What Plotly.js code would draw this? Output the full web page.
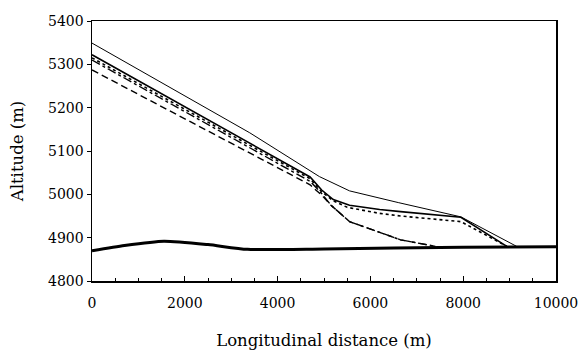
<!DOCTYPE html>
<html><head><meta charset="utf-8">
<script src="https://cdn.plot.ly/plotly-3.0.1.min.js"></script>
<style>body{margin:0;background:#fff}#c{width:586px;height:354px}</style>
</head><body><div id="c"></div>
<script>
// Thin solid profile
const thinX = [0, 3400, 4900, 5300, 5550, 6600, 7950, 9150];
const thinY = [5349, 5142, 5041, 5020, 5008, 4981, 4948, 4880];
// Medium solid profile
const solidX = [0, 4700, 4950, 5200, 5550, 6200, 6650, 7950, 8940];
const solidY = [5322, 5040, 5010, 4988, 4975, 4965, 4960, 4947, 4880];
// Dotted profile
const dotX = [0, 4700, 4950, 5200, 5500, 6200, 6650, 7950, 8940];
const dotY = [5315, 5036, 5006, 4985, 4970, 4956, 4950, 4937, 4880];
// Dash-dot profile
const ddX = [0, 4700, 4950, 5150, 5550, 6650, 7400];
const ddY = [5310, 5030, 5002, 4975, 4937, 4895, 4880];
// Dashed profile
const dashX = [0, 4700, 4950, 5150, 5550, 6650, 7400];
const dashY = [5287, 5022, 4998, 4975, 4937, 4895, 4880];
// Ground / valley floor
const groundX = [0, 700, 1550, 2500, 3350, 5000, 8000, 10000];
const groundY = [4870, 4882, 4892, 4884, 4873, 4874, 4878, 4879];

const xTicks = [0, 2000, 4000, 6000, 8000, 10000];
const yTicks = [4800, 4900, 5000, 5100, 5200, 5300, 5400];

const blk = '#000';
const traces = [
  {x: thinX, y: thinY, mode: 'lines', line: {color: blk, width: 1}},
  {x: solidX, y: solidY, mode: 'lines', line: {color: blk, width: 1.6}},
  {x: dotX, y: dotY, mode: 'lines', line: {color: blk, width: 1.6, dash: 'dot'}},
  {x: ddX, y: ddY, mode: 'lines', line: {color: blk, width: 1.4, dash: 'dashdot'}},
  {x: dashX, y: dashY, mode: 'lines', line: {color: blk, width: 1.4, dash: '7px,4px'}},
  {x: groundX, y: groundY, mode: 'lines', line: {color: blk, width: 3, shape: 'spline', smoothing: 0.6}}
];

const tickFont = {family: 'DejaVu Serif, Liberation Serif, serif', size: 14, color: '#000'};
const titleFont = {family: 'DejaVu Serif, Liberation Serif, serif', size: 16.5, color: '#000'};
const layout = {
  width: 586, height: 354,
  margin: {l: 92, r: 30, t: 21, b: 73},
  paper_bgcolor: '#fff', plot_bgcolor: '#fff',
  showlegend: false,
  font: tickFont,
  xaxis: {
    range: [0, 10000], tickvals: xTicks, ticktext: xTicks.map(String),
    showgrid: false, zeroline: false, showline: true, linecolor: blk, linewidth: 1.5, mirror: true,
    ticks: 'inside', ticklen: 5, tickcolor: blk, ticklabelstandoff: 9,
    minor: {dtick: 500, ticks: 'inside', ticklen: 3, tickcolor: blk},
    title: {text: 'Longitudinal distance (m)', font: titleFont, standoff: 24},
    tickfont: tickFont
  },
  yaxis: {
    range: [4800, 5400], tickvals: yTicks, ticktext: yTicks.map(String),
    showgrid: false, zeroline: false, showline: true, linecolor: blk, linewidth: 1.5, mirror: true,
    ticks: 'outside', ticklen: 4, tickcolor: blk,
    title: {text: 'Altitude (m)', font: titleFont, standoff: 20},
    tickfont: tickFont
  }
};
Plotly.newPlot('c', traces, layout, {staticPlot: true});
</script></body></html>
